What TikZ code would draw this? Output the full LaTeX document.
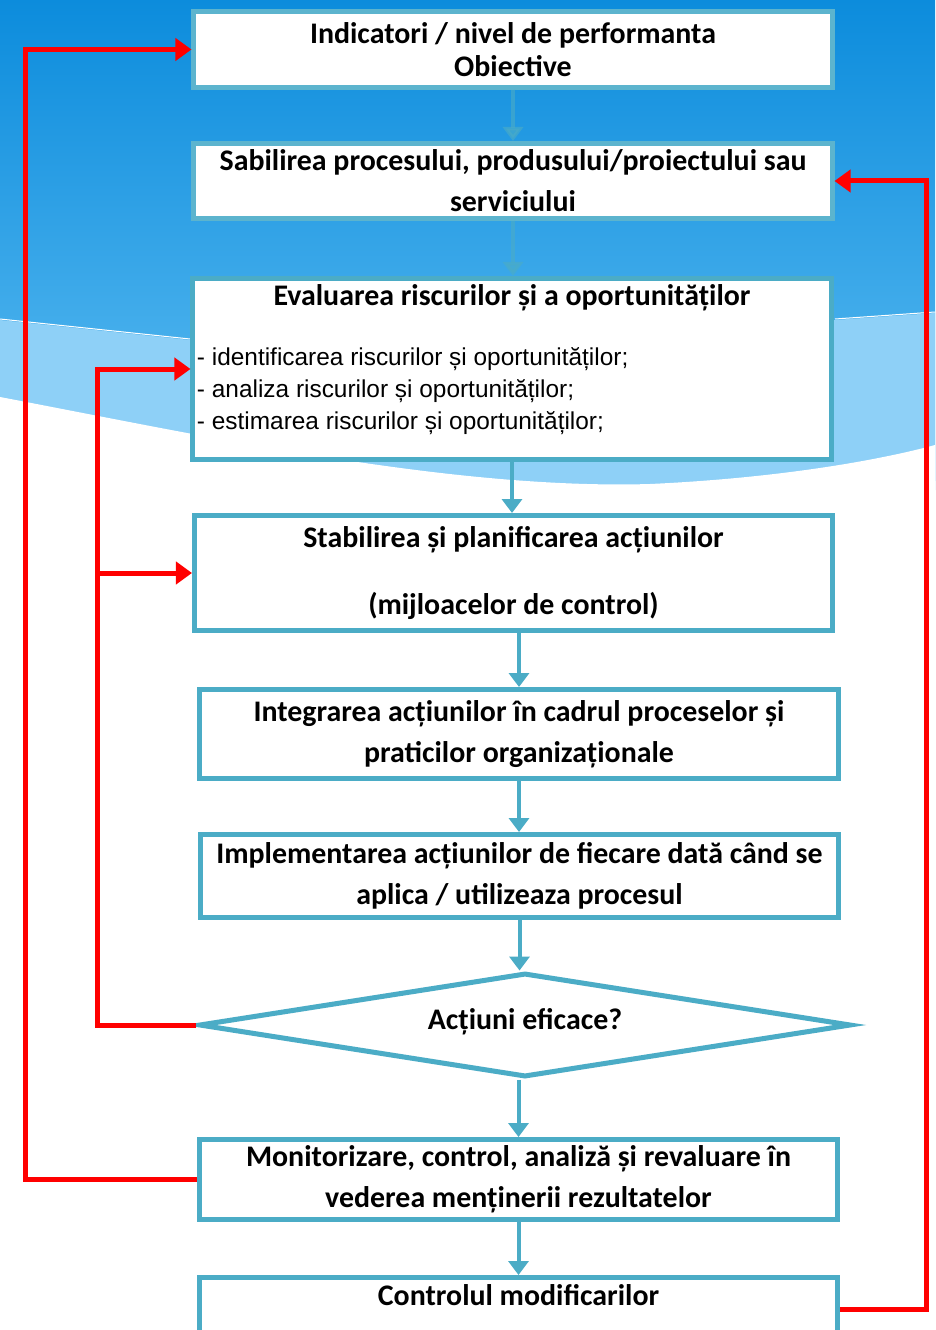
\documentclass[tikz,border=0pt]{standalone}
\usepackage{fontspec}
\setmainfont{Carlito}
\newfontfamily\listfont{Liberation Sans}
\usetikzlibrary{shapes.geometric,arrows.meta}

\definecolor{boxcol}{RGB}{75,172,198}
\definecolor{topboxcol}{RGB}{92,180,206}
\definecolor{skytop}{RGB}{12,140,220}
\definecolor{skylow}{RGB}{92,188,242}
\definecolor{bandcol}{RGB}{142,208,247}
\definecolor{loopcol}{RGB}{255,0,0}

\tikzset{
  stepbox/.style={draw=boxcol, line width=5bp, fill=white, inner sep=3bp,
    minimum width=638bp, align=center,
    font=\fontsize{30}{41}\selectfont\bfseries},
  flow/.style={draw=boxcol, line width=4bp, -{Triangle[width=20bp,length=14bp]}},
  fb/.style={draw=loopcol, line width=5bp, -{Triangle[width=22bp,length=16bp]}},
}

\begin{document}
\begin{tikzpicture}[x=1bp,y=-1bp]
  \useasboundingbox (0,0) rectangle (935,1330);
  \clip (0,0) rectangle (935,1330);
%%
  % background
  \fill[top color=skytop, bottom color=skylow] (0,0) rectangle (935,480);
  \fill[bandcol] (0,320) -- (190,340) -- (512,390) -- (835,320) -- (935,313) -- (935,490) -- (0,490) -- cycle;
  \draw[white, line width=1bp] (0,319) -- (190,339);
  \draw[white, line width=1bp] (835,319) -- (935,312);
  \fill[white] (0,397) .. controls (200,435) and (450,490) .. (650,484)
    .. controls (780,478) and (880,460) .. (935,445) -- (935,1330) -- (0,1330) -- cycle;
  % Node: box1
  \node[stepbox, draw=topboxcol, minimum height=76bp] (box1) at (513,49.5)
    {Indicatori / nivel de performanta\\[-8bp] Obiective};
  % Node: box2
  \node[stepbox, draw=topboxcol, minimum height=75bp] (box2) at (513,181)
    {Sabilirea procesului, produsului/proiectului sau\\ serviciului};
  % Node: box3
  \node[stepbox, minimum height=181bp, text width=630bp, align=flush left] (box3) at (512,369)
    {{\centering Evaluarea riscurilor și a oportunităților\par}
     \vspace{28bp}
     {\listfont\mdseries\fontsize{24.5}{32}\selectfont
      - identificarea riscurilor și oportunităților;\\
      - analiza riscurilor și oportunităților;\\
      - estimarea riscurilor și oportunităților;\rule[-24bp]{0pt}{24bp}\par}};
  % Node: box4
  \node[stepbox, minimum height=115bp] (box4) at (513.5,573)
    {Stabilirea și planificarea acțiunilor\\[26bp] (mijloacelor de control)};
  % Node: box5
  \node[stepbox, minimum height=89bp] (box5) at (519,734)
    {Integrarea acțiunilor în cadrul proceselor și\\ praticilor organizaționale};
  % Node: box6
  \node[stepbox, minimum height=83bp] (box6) at (519.5,876)
    {Implementarea acțiunilor de fiecare dată când se\\ aplica / utilizeaza procesul};
  % Node: dia
  \node[stepbox, diamond, minimum width=652bp, minimum height=104bp, aspect=6.3,
    inner sep=0pt, text depth=12bp] (dia) at (525,1025) {Acțiuni eficace?};
  % Node: box7
  \node[stepbox, minimum height=80bp] (box7) at (518.5,1179.5)
    {Monitorizare, control, analiză și revaluare în\\ vederea menținerii rezultatelor};
  % Node: box8
  \node[stepbox, minimum height=64bp, text height=14bp, text depth=22bp] (box8) at (518.5,1309.5)
    {Controlul modificarilor};
  % loop corners
  \coordinate (outL) at (25,600);
  \coordinate (inL) at (97,573);
  \coordinate (outR) at (926,600);
  % Edge: box1 -> box2
  \draw[flow, opacity=0.6] (box1.south) -- (box2.north -| box1.south);
  % Edge: box2 -> box3
  \draw[flow, opacity=0.6] (box2.south) -- (box3.north -| box2.south);
  % Edge: box3 -> box4
  \draw[flow] (box3.south) -- (box4.north -| box3.south);
  % Edge: box4 -> box5
  \draw[flow] (box4.south -| box5.north) -- (box5.north);
  % Edge: box5 -> box6
  \draw[flow] (box5.south) -- (box6.north -| box5.south);
  % Edge: box6 -> dia
  \draw[flow] (box6.south) -- (dia.north -| box6.south);
  % Edge: dia -> box7
  \draw[flow] (dia.south -| box7.north) -- (box7.north);
  % Edge: box7 -> box8
  \draw[flow] (box7.south) -- (box8.north -| box7.south);
  % Edge: box7 -> box1
  \draw[fb] (box7.west) -| (outL) |- (box1.west);
  % Edge: dia -> box3
  \draw[fb] (dia.west) -| (inL) |- (box3.west);
  % Edge: dia -> box4
  \draw[fb] (inL) -- (box4.west);
  % Edge: box8 -> box2
  \draw[fb] (box8.east) -| (outR) |- (box2.east);
%
\end{tikzpicture}
\end{document}
